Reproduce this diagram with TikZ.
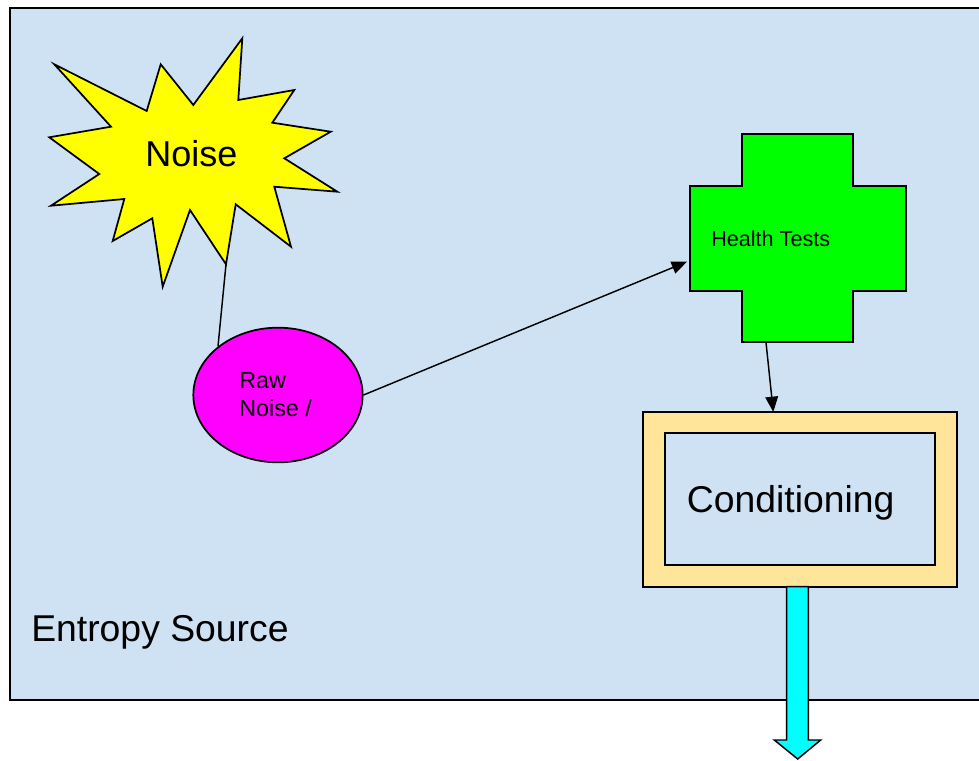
\documentclass[tikz,border=0pt]{standalone}
\usepackage{fontspec}
\setmainfont{Liberation Sans}
\usetikzlibrary{arrows.meta,shapes.geometric}
\definecolor{bgblue}{RGB}{207,226,243}
\definecolor{tan}{RGB}{255,229,153}
\definecolor{pmagenta}{RGB}{255,0,255}
\definecolor{pcyan}{RGB}{0,255,255}
\definecolor{pgreen}{RGB}{0,255,0}
\definecolor{pyellow}{RGB}{255,255,0}
\tikzset{
  outline/.style={draw=black,line width=1.3pt,line join=miter},
  conn/.style={draw=black,line width=1.1pt},
  arrowconn/.style={conn,-{Triangle[length=11.5pt,width=9.5pt]}},
  bigtext/.style={font=\fontsize{28}{33}\selectfont,inner sep=0pt,anchor=base west},
  smalltext/.style={font=\fontsize{16.2}{20.8}\selectfont,inner sep=0pt,anchor=base west,align=left},
}
\begin{document}
\begin{tikzpicture}[x=0.75pt,y=-0.75pt]
\useasboundingbox (0,0) rectangle (979,761);
% background box
\path[fill=bgblue] (9.5,7.5) rectangle (990,700);
\draw[line width=1.5pt] (990,7.5) -- (9.5,7.5) -- (9.5,700) -- (990,700);
\node[bigtext] (src) at (31,641.7) {Entropy Source};
% star
\path[outline,fill=pyellow] (54.3,64.3) -- (146.7,111) -- (160.7,64.3) -- (193.3,105) -- (242.3,38.3) -- (238.3,100) -- (294.3,90) -- (272.3,122.7) -- (330.7,131.7) -- (284.3,158.3) -- (337.3,191.7) -- (274.3,186.7) -- (291,246.7) -- (235.7,204.3) -- (226,264.3) -- (190,210) -- (162.7,286.7) -- (152.3,218.3) -- (112.7,241) -- (124.3,199) -- (51,205.7) -- (99.3,174) -- (49.3,137.3) -- (111,126.7) -- cycle;
\coordinate (starbot) at (226,264.3);
\node[bigtext,font=\fontsize{27}{32}\selectfont] (noise) at (145,166) {Noise};
% raw noise ellipse
\node[ellipse,outline,fill=pmagenta,minimum width=127pt,minimum height=101pt,inner sep=0pt] (raw) at (278,395) {};
\node[smalltext,font=\fontsize{17.5}{20.8}\selectfont] (rawtxt) at (239,416.7) {Raw\\Noise /};
% health tests cross
\path[outline,fill=pgreen] (741.7,134) -- (853.3,134) -- (853.3,186) -- (905.7,186) -- (905.7,290.7) -- (853.3,290.7) -- (853.3,342.3) -- (741.7,342.3) -- (741.7,290.7) -- (690,290.7) -- (690,186) -- (741.7,186) -- cycle;
\coordinate (crossin) at (687,261.7);
\coordinate (crossout) at (766,342.3);
\node[smalltext] (health) at (711,246) {Health Tests};
% conditioning
\node[outline,fill=tan,minimum width=235.5pt,minimum height=130.8pt,inner sep=0pt] (condout) at (800.3,499.5) {};
\node[outline,fill=bgblue,minimum width=202.7pt,minimum height=98.8pt,inner sep=0pt] (condin) at (800.2,499.2) {};
\node[bigtext] (cond) at (686.7,512.7) {Conditioning};
\coordinate (condtop) at (773.3,412);
% output arrow
\path[outline,line width=1.1pt,fill=pcyan] (786.7,586.7) -- (786.7,740) -- (774.3,740) -- (797.7,759) -- (820.7,740) -- (808.3,740) -- (808.3,586.7) -- cycle;
% connectors
\draw[conn] (starbot) -- (raw.141);
\draw[arrowconn] (raw.east) -- (crossin);
\draw[arrowconn] (crossout) -- (condtop);
\end{tikzpicture}
\end{document}
